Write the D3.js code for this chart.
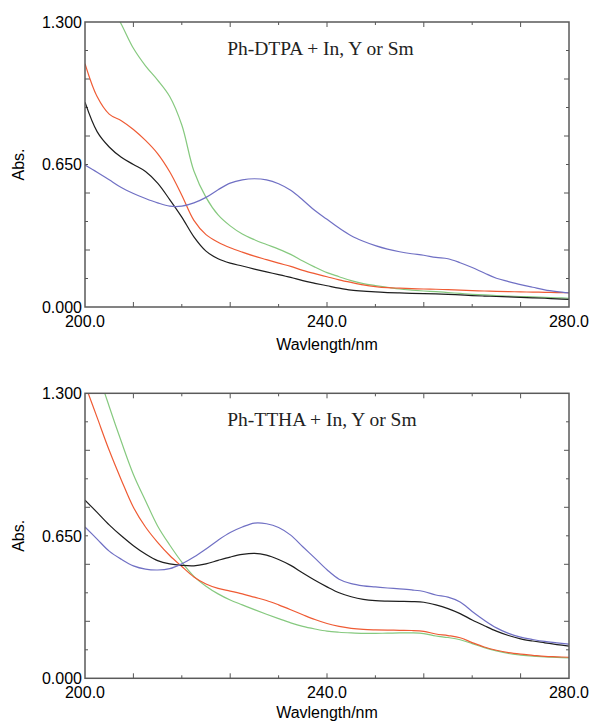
<!DOCTYPE html>
<html>
<head>
<meta charset="utf-8">
<script src="https://cdn.jsdelivr.net/npm/d3@7"></script>
<style>
  body { margin: 0; background: #fff; }
  svg { display: block; }
</style>
</head>
<body>
<div id="chart"></div>
<script>
// wavelength grid (nm), shared by every spectrum
let wavelength = [200, 202, 204, 206, 208, 210, 212, 214, 216, 218, 220, 222, 224, 226, 228, 230, 232, 234, 236, 238, 240,
  242, 244, 246, 248, 250, 252, 254, 256, 258, 260, 262, 264, 266, 268, 270, 272, 274, 276, 278, 280];

// Ph-DTPA + In, Y or Sm
let dtpaBlack = [0.934, 0.80, 0.73, 0.683, 0.65, 0.618, 0.565, 0.49, 0.41, 0.32, 0.255, 0.22, 0.20, 0.187, 0.173, 0.16, 0.148, 0.135, 0.12, 0.108, 0.097,
  0.086, 0.077, 0.072, 0.069, 0.066, 0.064, 0.062, 0.061, 0.06, 0.058, 0.055, 0.052, 0.05, 0.048, 0.046, 0.044, 0.042, 0.04, 0.037, 0.035];
let dtpaOrange = [1.11, 0.96, 0.88, 0.85, 0.81, 0.76, 0.70, 0.617, 0.51, 0.395, 0.33, 0.295, 0.27, 0.25, 0.232, 0.216, 0.2, 0.185, 0.167, 0.152, 0.138,
  0.124, 0.112, 0.101, 0.093, 0.088, 0.086, 0.084, 0.082, 0.081, 0.079, 0.077, 0.075, 0.073, 0.071, 0.07, 0.069, 0.068, 0.067, 0.066, 0.065];
let dtpaGreen = [1.62, 1.50, 1.39, 1.29, 1.18, 1.10, 1.035, 0.96, 0.83, 0.62, 0.50, 0.42, 0.37, 0.333, 0.307, 0.285, 0.264, 0.24, 0.21, 0.182, 0.157,
  0.138, 0.12, 0.107, 0.098, 0.09, 0.082, 0.077, 0.073, 0.07, 0.066, 0.062, 0.058, 0.055, 0.052, 0.05, 0.048, 0.046, 0.044, 0.042, 0.04];
let dtpaBlue = [0.648, 0.615, 0.58, 0.545, 0.518, 0.495, 0.475, 0.46, 0.46, 0.475, 0.50, 0.535, 0.565, 0.58, 0.585, 0.58, 0.562, 0.532, 0.488, 0.44, 0.4,
  0.36, 0.325, 0.3, 0.28, 0.264, 0.252, 0.243, 0.236, 0.226, 0.22, 0.202, 0.18, 0.155, 0.131, 0.116, 0.102, 0.09, 0.078, 0.07, 0.064];

// Ph-TTHA + In, Y or Sm
let tthaBlack = [0.813, 0.757, 0.70, 0.65, 0.605, 0.567, 0.537, 0.522, 0.515, 0.513, 0.522, 0.538, 0.553, 0.565, 0.57, 0.562, 0.542, 0.515, 0.48, 0.447, 0.417,
  0.39, 0.372, 0.36, 0.354, 0.352, 0.351, 0.35, 0.347, 0.335, 0.318, 0.295, 0.266, 0.24, 0.215, 0.195, 0.18, 0.17, 0.162, 0.154, 0.147];
let tthaOrange = [1.34, 1.19, 1.04, 0.905, 0.78, 0.69, 0.62, 0.56, 0.51, 0.462, 0.43, 0.41, 0.398, 0.385, 0.37, 0.355, 0.335, 0.313, 0.29, 0.268, 0.25,
  0.237, 0.228, 0.223, 0.221, 0.22, 0.219, 0.218, 0.214, 0.202, 0.195, 0.185, 0.163, 0.143, 0.128, 0.117, 0.11, 0.105, 0.1, 0.098, 0.096];
let tthaGreen = [1.62, 1.41, 1.24, 1.08, 0.93, 0.81, 0.695, 0.608, 0.53, 0.465, 0.42, 0.385, 0.357, 0.335, 0.313, 0.292, 0.272, 0.253, 0.237, 0.225, 0.215,
  0.21, 0.207, 0.205, 0.205, 0.206, 0.207, 0.207, 0.204, 0.193, 0.186, 0.176, 0.158, 0.14, 0.125, 0.113, 0.106, 0.101, 0.098, 0.095, 0.093];
let tthaBlue = [0.69, 0.635, 0.58, 0.543, 0.513, 0.498, 0.494, 0.5, 0.522, 0.553, 0.59, 0.63, 0.665, 0.69, 0.708, 0.705, 0.688, 0.653, 0.6, 0.548, 0.495,
  0.452, 0.432, 0.422, 0.417, 0.412, 0.408, 0.403, 0.396, 0.38, 0.37, 0.348, 0.305, 0.265, 0.23, 0.205, 0.188, 0.177, 0.168, 0.162, 0.156];

let xTickLabels = [200, 240, 280];
let yTickLabels = [0, 0.65, 1.3];
let panelTitles = ['Ph-DTPA + In, Y or Sm', 'Ph-TTHA + In, Y or Sm'];

let seriesColors = {'green': '#86c97f', 'orange': '#ef5b34', 'black': '#1e1e1e', 'blue': '#7070c4'};

let svgWidth = 596, svgHeight = 725;
let svg = d3.select('#chart').append('svg').attr('width', svgWidth).attr('height', svgHeight);

let drawPanel = function(top, title, series, idx){
  let margin = {'left': 85, 'right': 569};
  let height = 285;
  let xScale = d3.scaleLinear().domain([200, 280]).range([margin.left, margin.right]);
  let yScale = d3.scaleLinear().domain([0, 1.3]).range([top + height, top]);

  let g = svg.append('g').attr('class', 'panel');

  g.append('defs').append('clipPath').attr('id', 'clip' + idx)
    .append('rect')
    .attr('x', margin.left).attr('y', top)
    .attr('width', margin.right - margin.left).attr('height', height);

  // tick marks, inside the box; the long ones sit between the labels
  let xTicks = d3.range(11).map(i => 200 + i * 8);
  let yTicks = d3.range(11).map(i => i * 0.13);
  let tickColor = '#555';
  xTicks.forEach((t, i) => {
    if(i == 0 || i == 10) return;
    let len = i % 2 == 0 ? 3 : 5;
    g.append('line').attr('x1', xScale(t)).attr('x2', xScale(t))
      .attr('y1', yScale(0)).attr('y2', yScale(0) - len)
      .attr('stroke', tickColor).attr('stroke-width', 1);
    g.append('line').attr('x1', xScale(t)).attr('x2', xScale(t))
      .attr('y1', yScale(1.3)).attr('y2', yScale(1.3) + len)
      .attr('stroke', tickColor).attr('stroke-width', 1);
  });
  yTicks.forEach((t, i) => {
    if(i == 0 || i == 10) return;
    let len = i % 2 == 0 ? 5 : 3;
    g.append('line').attr('x1', margin.left).attr('x2', margin.left + len)
      .attr('y1', yScale(t)).attr('y2', yScale(t))
      .attr('stroke', tickColor).attr('stroke-width', 1);
    g.append('line').attr('x1', margin.right).attr('x2', margin.right - len)
      .attr('y1', yScale(t)).attr('y2', yScale(t))
      .attr('stroke', tickColor).attr('stroke-width', 1);
  });

  let line = d3.line()
    .x((d, i) => xScale(wavelength[i]))
    .y(d => yScale(d))
    .curve(d3.curveCatmullRom.alpha(0.5));

  let lines = g.append('g').attr('clip-path', 'url(#clip' + idx + ')');
  series.forEach(s => {
    lines.append('path')
      .attr('d', line(s.values))
      .attr('fill', 'none')
      .attr('stroke', seriesColors[s.color])
      .attr('stroke-width', 1.2);
  });

  // frame
  g.append('rect')
    .attr('x', margin.left).attr('y', top)
    .attr('width', margin.right - margin.left).attr('height', height)
    .attr('fill', 'none').attr('stroke', '#5a5a5a').attr('stroke-width', 1.5);

  let labelFont = 'Liberation Sans, Arial, sans-serif';
  g.selectAll('.ylab').data(yTickLabels).enter().append('text')
    .attr('class', 'ylab')
    .attr('x', margin.left - 3)
    .attr('y', d => yScale(d))
    .attr('dy', '0.36em')
    .attr('text-anchor', 'end')
    .attr('font-family', labelFont).attr('font-size', 16)
    .attr('fill', '#000')
    .text(d => d3.format('.3f')(d));

  g.selectAll('.xlab').data(xTickLabels).enter().append('text')
    .attr('class', 'xlab')
    .attr('x', d => xScale(d))
    .attr('y', yScale(0) + 20)
    .attr('text-anchor', 'middle')
    .attr('font-family', labelFont).attr('font-size', 16)
    .attr('fill', '#000')
    .text(d => d3.format('.1f')(d));

  g.append('text')
    .attr('x', (margin.left + margin.right) / 2)
    .attr('y', yScale(0) + (idx == 0 ? 43 : 40))
    .attr('text-anchor', 'middle')
    .attr('font-family', labelFont).attr('font-size', 16)
    .attr('fill', '#000')
    .text('Wavlength/nm');

  g.append('text')
    .attr('transform', 'translate(' + [24, yScale(0.65)] + ') rotate(-90)')
    .attr('text-anchor', 'middle')
    .attr('font-family', labelFont).attr('font-size', 16)
    .attr('fill', '#000')
    .text('Abs.');

  g.append('text')
    .attr('x', xScale(223.5))
    .attr('y', top + 33)
    .attr('font-family', 'Liberation Serif, Times New Roman, serif').attr('font-size', 19.5)
    .attr('fill', '#222')
    .text(title);
};

drawPanel(22, panelTitles[0], [
  {'color': 'green', 'values': dtpaGreen},
  {'color': 'orange', 'values': dtpaOrange},
  {'color': 'black', 'values': dtpaBlack},
  {'color': 'blue', 'values': dtpaBlue}
], 0);

drawPanel(393.3, panelTitles[1], [
  {'color': 'green', 'values': tthaGreen},
  {'color': 'orange', 'values': tthaOrange},
  {'color': 'black', 'values': tthaBlack},
  {'color': 'blue', 'values': tthaBlue}
], 1);
</script>
</body>
</html>
